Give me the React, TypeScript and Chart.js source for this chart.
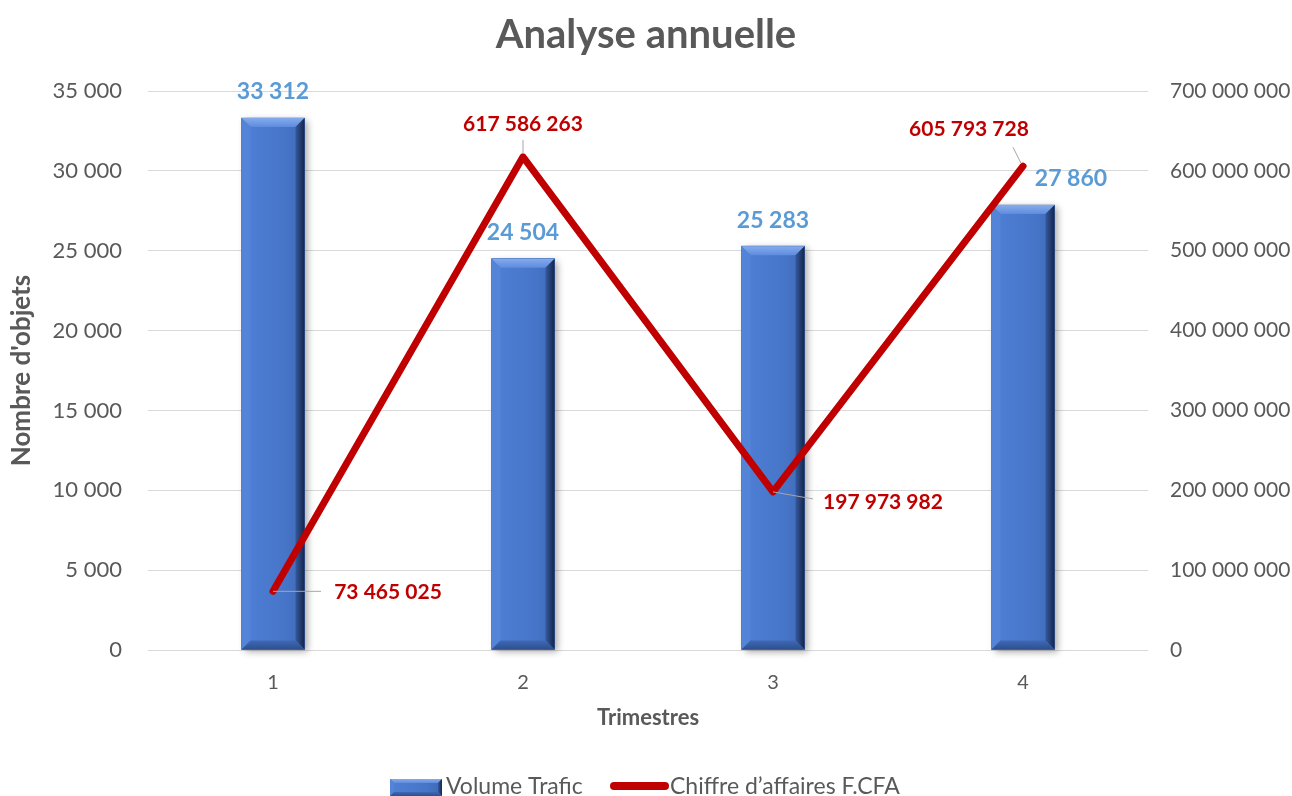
import React, { useEffect, useRef } from "react";
import { Chart, registerables } from "chart.js";

Chart.register(...registerables);

// ---- data ----
const categories: string[] = ["1", "2", "3", "4"];
const volumeTrafic: number[] = [33312, 24504, 25283, 27860];
const chiffreAffaires: number[] = [73465025, 617586263, 197973982, 605793728];
const seriesNames: string[] = ["Volume Trafic", "Chiffre d’affaires F.CFA"];
const leftAxis = { min: 0, max: 35000, step: 5000 };
const rightAxis = { min: 0, max: 700000000, step: 100000000 };

// ---- label placement (style, relative to marks) ----
const barLabelShift: [number, number][] = [[0, 0], [0, 0], [0, 0], [48, 0]];
const lineLabelShift: [number, number][] = [[115, 1], [0, -33], [110, 10], [-54, -37]];
const lineLeader: [number, number, number, number][] = [
  [0, 0, 48, 0],
  [0, -3, 0, -17],
  [0, 0, 40, 7],
  [-2, -3, -10, -19],
];

const FONT = "Lato, 'Open Sans', sans-serif";
const GRAY = "#595959";
const BLUE_LABEL = "#5B9BD5";
const RED = "#C00000";

const fmt = (n: number) => String(n).replace(/\B(?=(\d{3})+(?!\d))/g, " ");

function bevelBar(ctx: CanvasRenderingContext2D, x0: number, y0: number, x1: number, y1: number, b: number) {
  const poly = (pts: number[][], fill: string | CanvasGradient) => {
    ctx.beginPath();
    ctx.moveTo(pts[0][0], pts[0][1]);
    for (let i = 1; i < pts.length; i++) ctx.lineTo(pts[i][0], pts[i][1]);
    ctx.closePath();
    ctx.fillStyle = fill;
    ctx.fill();
  };
  const face = ctx.createLinearGradient(x0, 0, x1, 0);
  face.addColorStop(0, "#4F80D6");
  face.addColorStop(0.7, "#4675C8");
  face.addColorStop(1, "#3E68B6");
  poly([[x0, y0], [x1, y0], [x1, y1], [x0, y1]], face);
  const top = ctx.createLinearGradient(0, y0, 0, y0 + b);
  top.addColorStop(0, "#86ABEC");
  top.addColorStop(1, "#5E8CDD");
  poly([[x0, y0], [x1, y0], [x1 - b, y0 + b], [x0 + b, y0 + b]], top);
  poly([[x0, y0], [x0 + b, y0 + b], [x0 + b, y1 - b], [x0, y1]], "#5384D8");
  const right = ctx.createLinearGradient(x1 - b, 0, x1, 0);
  right.addColorStop(0, "#35599E");
  right.addColorStop(1, "#14264A");
  poly([[x1, y0], [x1, y1], [x1 - b, y1 - b], [x1 - b, y0 + b]], right);
  const bot = ctx.createLinearGradient(0, y1 - b, 0, y1);
  bot.addColorStop(0, "#3F69B5");
  bot.addColorStop(1, "#2D4F8E");
  poly([[x0, y1], [x1, y1], [x1 - b, y1 - b], [x0 + b, y1 - b]], bot);
}

const barStylePlugin = {
  id: "barStyle",
  afterDatasetDraw(chart: any, args: any) {
    if (args.index !== 0) return;
    const ctx: CanvasRenderingContext2D = chart.ctx;
    const meta = chart.getDatasetMeta(0);
    meta.data.forEach((bar: any) => {
      const { x, y, base, width } = bar.getProps(["x", "y", "base", "width"], true);
      const x0 = x - width / 2;
      const x1 = x + width / 2;
      ctx.save();
      ctx.shadowColor = "rgba(0,0,0,0.35)";
      ctx.shadowBlur = 7;
      ctx.shadowOffsetX = 3;
      ctx.shadowOffsetY = 2;
      ctx.fillStyle = "#4472C4";
      ctx.fillRect(x0, y, width, base - y);
      ctx.restore();
      ctx.save();
      bevelBar(ctx, x0, y, x1, base, 9);
      ctx.restore();
    });
  },
};

const labelsPlugin = {
  id: "valueLabels",
  afterDatasetsDraw(chart: any) {
    const ctx: CanvasRenderingContext2D = chart.ctx;
    ctx.save();
    const barMeta = chart.getDatasetMeta(0);
    ctx.font = `bold 23px ${FONT}`;
    ctx.fillStyle = BLUE_LABEL;
    ctx.textAlign = "center";
    ctx.textBaseline = "middle";
    barMeta.data.forEach((bar: any, i: number) => {
      const [dx, dy] = barLabelShift[i];
      ctx.fillText(fmt(chart.data.datasets[0].data[i]), bar.x + dx, bar.y - 26 + dy);
    });
    const lineMeta = chart.getDatasetMeta(1);
    lineMeta.data.forEach((pt: any, i: number) => {
      const [a, b, c, d] = lineLeader[i];
      ctx.strokeStyle = "#A6A6A6";
      ctx.lineWidth = 1;
      ctx.beginPath();
      ctx.moveTo(pt.x + a, pt.y + b);
      ctx.lineTo(pt.x + c, pt.y + d);
      ctx.stroke();
    });
    ctx.font = `bold 21px ${FONT}`;
    ctx.fillStyle = RED;
    lineMeta.data.forEach((pt: any, i: number) => {
      const [dx, dy] = lineLabelShift[i];
      ctx.fillText(fmt(chart.data.datasets[1].data[i]), pt.x + dx, pt.y + dy);
    });
    ctx.restore();
  },
};

const legendPlugin = {
  id: "customLegend",
  afterDraw(chart: any) {
    const ctx: CanvasRenderingContext2D = chart.ctx;
    const ds = chart.data.datasets;
    const cy = 787;
    ctx.save();
    bevelBar(ctx, 390, cy - 8, 442, cy + 9, 4);
    ctx.font = `23px ${FONT}`;
    ctx.fillStyle = GRAY;
    ctx.textAlign = "left";
    ctx.textBaseline = "middle";
    ctx.fillText(ds[0].label, 446, cy);
    ctx.strokeStyle = RED;
    ctx.lineWidth = 8;
    ctx.lineCap = "round";
    ctx.beginPath();
    ctx.moveTo(614, cy - 1);
    ctx.lineTo(665, cy - 1);
    ctx.stroke();
    ctx.fillText(ds[1].label, 670, cy);
    ctx.restore();
  },
};

export default function App() {
  const canvasRef = useRef<HTMLCanvasElement | null>(null);

  useEffect(() => {
    if (!canvasRef.current) return;
    const chart = new Chart(canvasRef.current, {
      type: "bar",
      data: {
        labels: categories,
        datasets: [
          {
            type: "bar",
            label: seriesNames[0],
            data: volumeTrafic,
            backgroundColor: "#4472C4",
            barThickness: 63,
            yAxisID: "y",
            order: 2,
          },
          {
            type: "line",
            label: seriesNames[1],
            data: chiffreAffaires,
            borderColor: RED,
            backgroundColor: RED,
            borderWidth: 7,
            borderCapStyle: "round",
            borderJoinStyle: "round",
            pointRadius: 0,
            pointHoverRadius: 0,
            tension: 0,
            yAxisID: "y1",
            order: 1,
          },
        ],
      } as any,
      options: {
        animation: false,
        responsive: true,
        maintainAspectRatio: false,
        events: [],
        layout: { padding: { top: 0, left: 0, right: 0, bottom: 56 } },
        plugins: {
          legend: { display: false },
          tooltip: { enabled: false },
          title: {
            display: true,
            text: "Analyse annuelle",
            color: GRAY,
            font: { family: FONT, size: 40, weight: "bold" },
            padding: { top: 11, bottom: 32 },
          },
        },
        scales: {
          x: {
            grid: { display: false, drawTicks: false },
            border: { display: false },
            ticks: { color: GRAY, font: { family: FONT, size: 20 }, padding: 21 },
            title: {
              display: true,
              text: "Trimestres",
              color: GRAY,
              font: { family: FONT, size: 22, weight: "bold" },
              padding: { top: 0, bottom: 9 },
            },
            afterFit: (s: any) => { s.height = 90; },
          },
          y: {
            position: "left",
            min: leftAxis.min,
            max: leftAxis.max,
            grid: { color: "#D9D9D9", lineWidth: 1, drawTicks: false },
            border: { display: false },
            ticks: {
              stepSize: leftAxis.step,
              color: GRAY,
              font: { family: FONT, size: 22 },
              padding: 26,
              callback: (v: any) => fmt(Number(v)),
            },
            title: {
              display: true,
              text: "Nombre d'objets",
              color: GRAY,
              font: { family: FONT, size: 26, weight: "bold" },
              padding: { top: 6, bottom: 0 },
            },
            afterFit: (s: any) => { s.width = 148; },
          },
          y1: {
            position: "right",
            min: rightAxis.min,
            max: rightAxis.max,
            grid: { display: false, drawTicks: false },
            border: { display: false },
            ticks: {
              stepSize: rightAxis.step,
              color: GRAY,
              font: { family: FONT, size: 21 },
              padding: 22,
              callback: (v: any) => fmt(Number(v)),
            },
            afterFit: (s: any) => { s.width = 144; },
          },
        },
      } as any,
      plugins: [barStylePlugin, labelsPlugin, legendPlugin],
    });
    return () => chart.destroy();
  }, []);

  return (
    <div style={{ position: "absolute", left: 0, top: 0, width: 1292, height: 796, background: "#fff" }}>
      <canvas ref={canvasRef} />
    </div>
  );
}
